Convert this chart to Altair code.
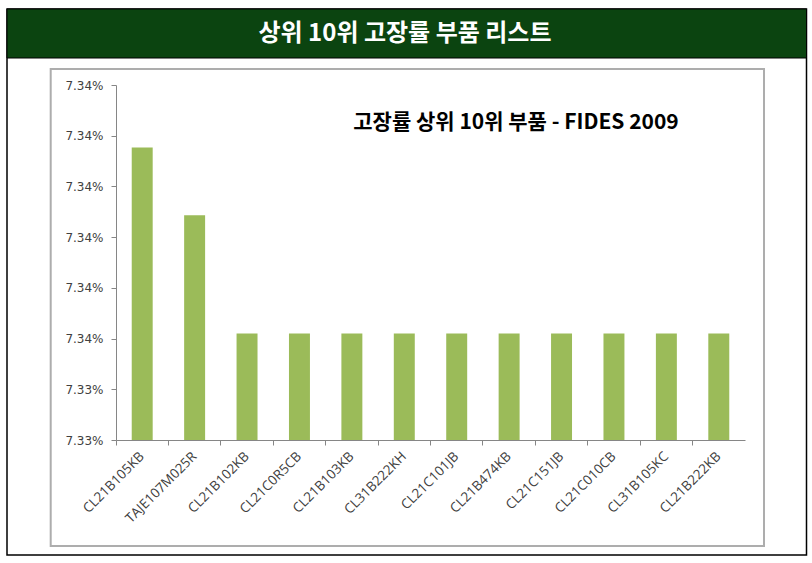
import altair as alt
import pandas as pd

parts = ["CL21B105KB", "TAJE107M025R", "CL21B102KB", "CL21C0R5CB", "CL21B103KB",
         "CL31B222KH", "CL21C101JB", "CL21B474KB", "CL21C151JB", "CL21C010CB",
         "CL31B105KC", "CL21B222KB"]
rates = [7.33877, 7.33743, 7.33510, 7.33510, 7.33510, 7.33510,
         7.33510, 7.33510, 7.33510, 7.33510, 7.33510, 7.33510]
y_ticks = [7.333, 7.334, 7.335, 7.336, 7.337, 7.338, 7.339, 7.340]
header_title = "상위 10위 고장률 부품 리스트"
chart_title = "고장률 상위 10위 부품 - FIDES 2009"

df = pd.DataFrame({"part": parts, "rate": rates})

W, H = 629, 355
PL, PT = 116, 85

one = pd.DataFrame({"t": [header_title], "c": [chart_title]})

outer = alt.Chart(one).mark_rect(fill="white", stroke="black", strokeWidth=1.5).encode(
    x=alt.value(-109), x2=alt.value(690.5), y=alt.value(-76), y2=alt.value(470))
header = alt.Chart(one).mark_rect(fill="#0B4410", stroke="black", strokeWidth=1).encode(
    x=alt.value(-109), x2=alt.value(690.5), y=alt.value(-76), y2=alt.value(-27))
inner = alt.Chart(one).mark_rect(fill="white", stroke="#ADADAD", strokeWidth=2).encode(
    x=alt.value(-65.3), x2=alt.value(648), y=alt.value(-16), y2=alt.value(461))
header_text = alt.Chart(one).mark_text(
    font="Noto Sans CJK KR", fontSize=24, fontWeight="bold", color="white",
    align="center", baseline="middle").encode(
    x=alt.value(289), y=alt.value(-51), text="t:N")
title_text = alt.Chart(one).mark_text(
    font="Noto Sans CJK KR", fontSize=21, fontWeight="bold", color="black",
    align="center", baseline="middle").encode(
    x=alt.value(400), y=alt.value(38), text="c:N")

bars = alt.Chart(df).mark_bar(color="#9BBB59", width=alt.RelativeBandSize(0.4)).encode(
    x=alt.X("part:N", sort=None, title=None,
            scale=alt.Scale(paddingInner=0, paddingOuter=0),
            axis=alt.Axis(bandPosition=0, labelAngle=-45,
                          labelAlign="right", labelBaseline="middle",
                          labelPadding=9, tickSize=5, zindex=1,
                          labelFont="Open Sans", labelFontSize=13.5, labelColor="#404040",
                          domainColor="#868686", tickColor="#868686", grid=False)),
    y=alt.Y("rate:Q", title=None,
            scale=alt.Scale(domain=[y_ticks[0], y_ticks[-1]], zero=False, nice=False),
            axis=alt.Axis(values=y_ticks,
                          labelExpr="format(datum.value + 0.0000001, '.2f') + '%'",
                          tickSize=5, labelPadding=8, zindex=1,
                          labelFont="DejaVu Sans", labelFontSize=12, labelColor="#404040",
                          domainColor="#868686", tickColor="#868686", grid=False)),
    y2=alt.datum(y_ticks[0]),
)

chart = alt.layer(outer, header, inner, bars, header_text, title_text).properties(
    width=W, height=H,
    autosize=alt.AutoSizeParams(type="none"),
    padding={"left": PL, "top": PT, "right": 812 - PL - W, "bottom": 563 - PT - H},
    background="white",
).configure_view(stroke=None)

chart.save("out.html", embed_options={"renderer": "svg", "actions": False})
